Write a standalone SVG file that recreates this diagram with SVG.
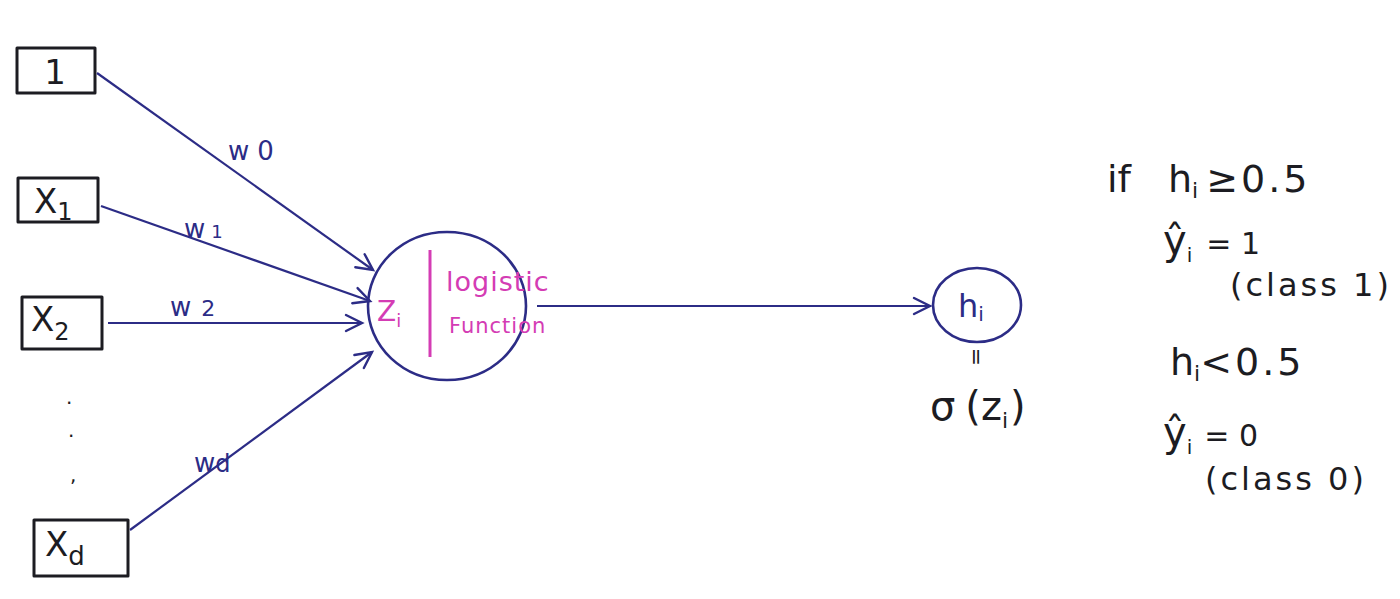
<svg xmlns="http://www.w3.org/2000/svg" width="1400" height="599" viewBox="0 0 1400 599">
<style>
.box{fill:none;stroke:#1c1c22;stroke-width:3;stroke-linejoin:round}
.btxt{font-family:"DejaVu Sans","Liberation Sans",sans-serif;fill:#1c1c22;font-size:34px}
.edge{stroke:#2c2c86;stroke-width:2.2;fill:none}
.wt{font-family:"DejaVu Sans","Liberation Sans",sans-serif;fill:#2c2c86;font-size:26px}
.node{fill:none;stroke:#2c2c86;stroke-width:2.6}
.pink{font-family:"DejaVu Sans","Liberation Sans",sans-serif;fill:#d43cb4}
.ink{font-family:"DejaVu Sans","Liberation Sans",sans-serif;fill:#1c1c22}
</style>
<defs>
<marker id="arr" markerUnits="userSpaceOnUse" markerWidth="24" markerHeight="24" refX="18" refY="10" viewBox="0 0 24 20" orient="auto">
<path d="M2,2 L18,10 L2,18" fill="none" stroke="#2c2c86" stroke-width="2.4" stroke-linecap="round"/>
</marker>
</defs>
<rect width="1400" height="599" fill="#ffffff"/>

<g id="node-bias">
<rect class="box" x="17" y="48" width="78" height="45"/>
<text class="btxt" x="55" y="84" text-anchor="middle">1</text>
</g>
<g id="node-x1">
<rect class="box" x="18" y="178" width="80" height="44"/>
<text class="btxt" x="34" y="213">X<tspan font-size="24" dy="7">1</tspan></text>
</g>
<g id="node-x2">
<rect class="box" x="22" y="297" width="80" height="52"/>
<text class="btxt" x="31" y="331">X<tspan font-size="24" dy="9">2</tspan></text>
</g>
<g id="node-dots">
<text class="ink" x="66" y="404" font-size="20">.</text>
<text class="ink" x="68" y="437" font-size="20">.</text>
<text class="ink" x="70" y="482" font-size="20">,</text>
</g>
<g id="node-xd">
<rect class="box" x="34" y="520" width="94" height="56"/>
<text class="btxt" x="45" y="556">X<tspan font-size="26" dy="9">d</tspan></text>
</g>

<g id="connectors">
<line class="edge" x1="97" y1="73" x2="373" y2="270" marker-end="url(#arr)"/>
<line class="edge" x1="101" y1="206" x2="370" y2="301" marker-end="url(#arr)"/>
<line class="edge" x1="108" y1="323" x2="362" y2="323" marker-end="url(#arr)"/>
<line class="edge" x1="130" y1="530" x2="372" y2="352" marker-end="url(#arr)"/>
<line class="edge" x1="537" y1="306" x2="930" y2="306" marker-end="url(#arr)"/>
<text class="wt" x="228" y="160">w<tspan dx="8">0</tspan></text>
<text class="wt" x="184" y="238">w<tspan font-size="18" dx="6">1</tspan></text>
<text class="wt" x="170" y="316">w<tspan dx="10" font-size="22">2</tspan></text>
<text class="wt" x="194" y="472">w<tspan font-size="24">d</tspan></text>
</g>

<g id="node-neuron">
<ellipse class="node" cx="447" cy="306" rx="79" ry="74"/>
<line x1="430" y1="250" x2="430" y2="357" stroke="#d43cb4" stroke-width="3"/>
<text class="pink" x="377" y="321" font-size="28">Z<tspan font-size="18" dy="6">i</tspan></text>
<text class="pink" x="446" y="291" font-size="27" letter-spacing="1">logistic</text>
<text class="pink" x="449" y="333" font-size="21" letter-spacing="1">Function</text>
</g>

<g id="node-h">
<ellipse class="node" cx="977" cy="305" rx="44" ry="37"/>
<text x="958" y="317" font-size="32" style="fill:#2c2c86;font-family:'DejaVu Sans','Liberation Sans',sans-serif">h<tspan font-size="20" dy="4">i</tspan></text>
</g>

<g id="sigma-label">
<text class="ink" x="975" y="363" font-size="22" text-anchor="middle" transform="rotate(90 975 357)">=</text>
<text class="ink" x="930" y="420" font-size="40">σ<tspan dx="10">(z</tspan><tspan font-size="22" dy="8">i</tspan><tspan dy="-8" dx="2">)</tspan></text>
</g>

<g id="decision-text">
<text class="ink" x="1107" y="192" font-size="38">if<tspan x="1168">h</tspan><tspan font-size="22" dy="6">i</tspan><tspan dy="-6" dx="8" letter-spacing="3">≥0.5</tspan></text>
<text class="ink" x="1163" y="254" font-size="40">ŷ<tspan font-size="20" dy="8">i</tspan><tspan dy="-8" dx="14" font-size="30">= 1</tspan></text>
<text class="ink" x="1230" y="296" font-size="32" letter-spacing="3">(class 1)</text>
<text class="ink" x="1170" y="375" font-size="38">h<tspan font-size="22" dy="6">i</tspan><tspan dy="-6" letter-spacing="3">&lt;0.5</tspan></text>
<text class="ink" x="1163" y="446" font-size="40">ŷ<tspan font-size="20" dy="8">i</tspan><tspan dy="-8" dx="12" font-size="30">= 0</tspan></text>
<text class="ink" x="1205" y="490" font-size="32" letter-spacing="3">(class 0)</text>
</g>
</svg>
